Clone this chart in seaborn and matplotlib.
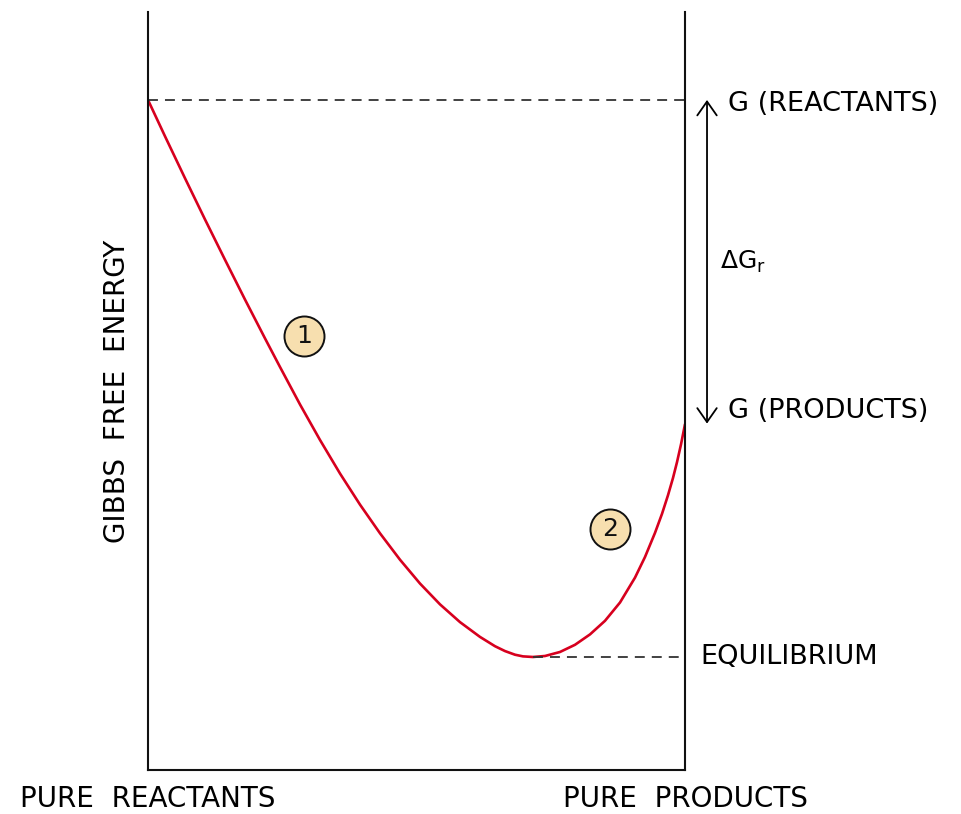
import matplotlib.pyplot as plt
import pandas as pd
import seaborn as sns

# reaction progress (% products) vs gibbs free energy (arbitrary units)
progress = [0.0, 3.17, 6.89, 10.61, 14.34, 18.06, 21.79, 24.58, 28.31, 32.03, 35.75, 39.48,
            43.20, 46.93, 50.65, 54.38, 58.10, 61.82, 64.62, 66.48, 68.34, 69.83, 71.69,
            73.93, 76.72, 79.52, 82.31, 85.10, 87.90, 90.69, 92.55, 94.41, 95.72, 96.83,
            97.77, 98.51, 99.26, 100.0]
gibbs = [88.40, 83.60, 78.07, 72.64, 67.31, 62.07, 56.94, 53.17, 48.22, 43.54, 39.12, 35.01,
         31.23, 27.74, 24.60, 21.85, 19.51, 17.56, 16.33, 15.69, 15.21, 14.99, 14.91,
         15.04, 15.57, 16.52, 17.89, 19.68, 22.10, 25.38, 28.10, 31.28, 33.80, 36.24,
         38.54, 40.61, 42.97, 45.62]

g_reactants = 88.4
g_products = 45.7
g_equilibrium = 14.91
x_equilibrium = 71.69

end_labels = ["PURE  REACTANTS", "PURE  PRODUCTS"]
stage_x = [29.1, 86.0]  # numbered circles next to the curve
stage_y = [57.3, 31.8]
stage_text = ["1", "2"]

sns.set_style("white")
plt.rcParams['font.family'] = ['DejaVu Sans']
plt.rcParams['text.color'] = 'black'
plt.rcParams['axes.labelcolor'] = 'black'
plt.rcParams['xtick.color'] = 'black'

df = pd.DataFrame({"progress": progress, "gibbs": gibbs})

fig = plt.figure(figsize=(9.61, 8.14), dpi=100)
ax = fig.add_axes([148 / 961, 44 / 814, 537 / 961, 758 / 814])

sns.lineplot(data=df, x="progress", y="gibbs", sort=False, color="#d7001e", linewidth=1.9, ax=ax)

# dashed reference levels
dash = (0, (5.5, 3.9))
ax.plot([0, 100], [g_reactants, g_reactants], color="#333333", lw=1.3, linestyle=dash)
ax.plot([x_equilibrium, 100], [g_equilibrium, g_equilibrium], color="#333333", lw=1.3, linestyle=dash)

# delta G arrow
ax.annotate("", xy=(104.1, g_reactants), xytext=(104.1, g_products),
            arrowprops=dict(arrowstyle="<->,head_length=0.5,head_width=0.35", color="black",
                            lw=1.3, shrinkA=0, shrinkB=0, mutation_scale=20),
            annotation_clip=False)

ax.text(108.0, 87.9, "G (REACTANTS)", fontsize=19.5, va="center", ha="left", clip_on=False)
ax.text(108.0, 47.4, "G (PRODUCTS)", fontsize=19.5, va="center", ha="left", clip_on=False)
ax.text(102.8, g_equilibrium, "EQUILIBRIUM", fontsize=19.5, va="center", ha="left", clip_on=False)
ax.text(106.5, 67.0, r"ΔG$_\mathregular{r}$", fontsize=18, va="center", ha="left", clip_on=False)

# numbered circles
ax.scatter(stage_x, stage_y, s=830, facecolor="#f7dfaf", edgecolor="#111111", linewidth=1.4, zorder=3)
for x, y, t in zip(stage_x, stage_y, stage_text):
    ax.text(x, y, t, fontsize=18, ha="center", va="center", color="#111111", zorder=4)

ax.set_xlim(0, 100)
ax.set_ylim(0, 100)
ax.set_xticks([0, 100])
ax.set_xticklabels(end_labels, family=['Liberation Sans Narrow', 'DejaVu Sans'], fontsize=20)
ax.tick_params(axis="x", length=0, pad=11)
ax.set_yticks([])
ax.set_xlabel("")
ax.set_ylabel("GIBBS  FREE  ENERGY", fontsize=20, labelpad=12)

for side in ["left", "right", "bottom"]:
    ax.spines[side].set_visible(True)
    ax.spines[side].set_color("#111111")
    ax.spines[side].set_linewidth(1.5)
ax.spines["top"].set_visible(False)

fig.savefig("out.png", dpi=100)
